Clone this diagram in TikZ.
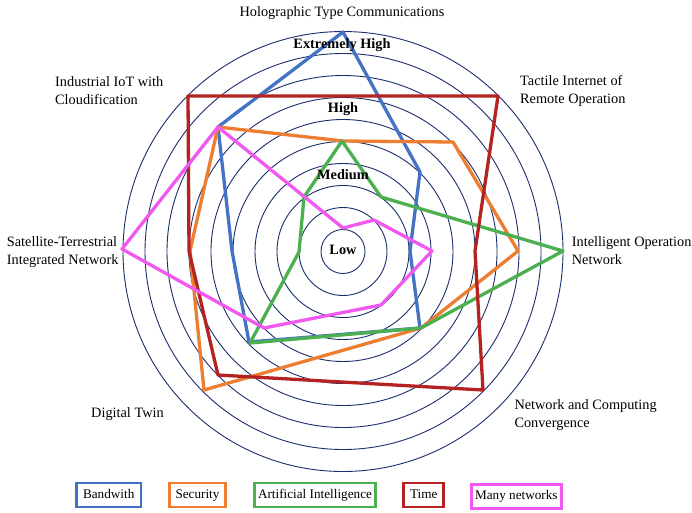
\documentclass[tikz,border=0pt]{standalone}
\usepackage{fontspec}
\setmainfont{Liberation Serif}
\definecolor{ringc}{HTML}{1B2F6E}
\definecolor{bluec}{HTML}{4472C4}
\definecolor{orangec}{HTML}{ED7D31}
\definecolor{greenc}{HTML}{4CAF50}
\definecolor{redc}{HTML}{B52222}
\definecolor{pinkc}{HTML}{F058F0}
\begin{document}
\begin{tikzpicture}[x=1pt,y=-1pt,
  ring/.style={draw=ringc, line width=0.9pt},
  series/.style={line width=3.3pt, line join=round, line cap=round},
  axlabel/.style={inner sep=0pt, align=left, anchor=north west, font=\fontsize{14.3}{18}\selectfont},
  level/.style={inner sep=0pt, anchor=base, font=\fontsize{14.3}{18}\selectfont\bfseries},
  legbox/.style={draw, line width=2.7pt, inner sep=0pt, minimum height=24pt, text height=9.5pt, text depth=3pt, font=\fontsize{13.2}{16}\selectfont}]
\useasboundingbox (0,0) rectangle (692,512);
\fill[white] (0,0) rectangle (692,512);
\coordinate (O) at (343,251.5);
\foreach \r in {22,44,...,220} \draw[ring] (O) circle[radius=\r pt];
% series
\draw[series, bluec] (343,32) -- (420,172) -- (410,251) -- (420,328) -- (249,342) -- (232,251) -- (218,127) -- cycle;
\draw[series, orangec] (218,127) -- (343,141) -- (453,142) -- (518,251) -- (421,328) -- (204,390) -- (190,251) -- cycle;
\draw[series, greenc] (342,141) -- (381,197) -- (563,251) -- (421,328) -- (250,343) -- (299,252) -- (304,197) -- cycle;
\draw[series, redc] (188,96) -- (498,96) -- (475,251) -- (483,390) -- (218,375) -- (189,251) -- cycle;
\draw[series, pinkc] (218,127) -- (343,228) -- (374,220) -- (432,251) -- (381,305) -- (264,328) -- (122,249) -- cycle;
% level labels
\node[level] (lx) at (342,48.5) {Extremely High};
\node[level] (lh) at (343,112.8) {High};
\node[level] (lm) at (343,179.8) {Medium};
\node[level] (ll) at (343,254.4) {Low};
% axis labels
\node[inner sep=0pt, anchor=base, font=\fontsize{14.3}{18}\selectfont] (hol) at (342,16.3) {Holographic Type Communications};
\node[axlabel] (tac) at (520,72.7) {\strut Tactile Internet of\\Remote Operation};
\node[axlabel] (iot) at (55,73.7) {\strut Industrial IoT with\\Cloudification};
\node[axlabel] (sat) at (6.7,233.7) {\strut Satellite-Terrestrial\\Integrated Network};
\node[axlabel] (ion) at (571.7,233.7) {\strut Intelligent Operation\\Network};
\node[axlabel] (ncc) at (514.3,396.4) {\strut Network and Computing\\Convergence};
\node[inner sep=0pt, anchor=base west, font=\fontsize{14.3}{18}\selectfont] (dt) at (91,417.5) {Digital Twin};
% legend
\node[legbox, draw=bluec, minimum width=64.6pt] (kb) at (108.7,495) {Bandwith};
\node[legbox, draw=orangec, minimum width=55.7pt] (ks) at (197.5,495) {Security};
\node[legbox, draw=greenc, minimum width=120.7pt] (ka) at (315,495) {Artificial Intelligence};
\node[legbox, draw=redc, minimum width=40pt] (kt) at (423.7,495) {Time};
\node[legbox, draw=pinkc, minimum width=90pt] (km) at (516.3,496.7) {Many networks};
\end{tikzpicture}
\end{document}
